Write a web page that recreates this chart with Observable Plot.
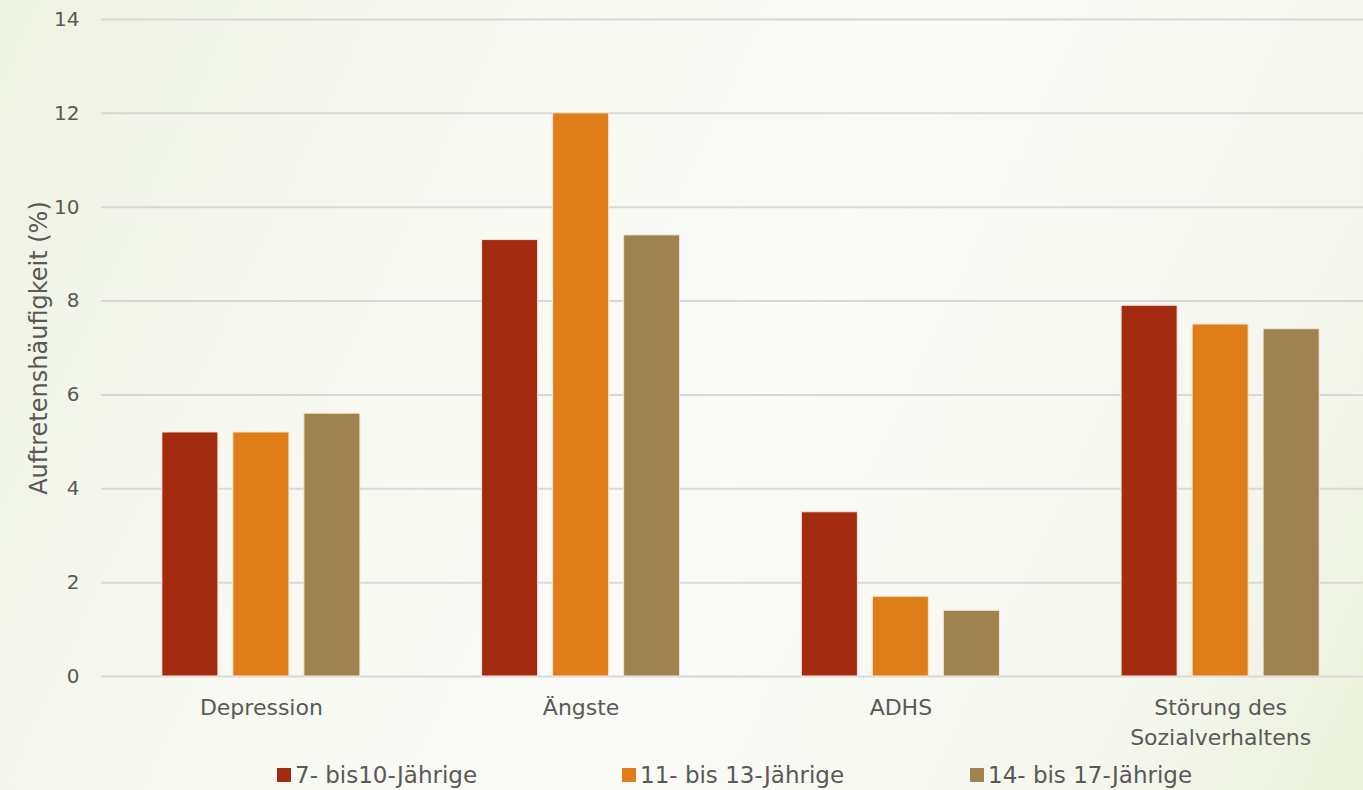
<!DOCTYPE html>
<html><head><meta charset="utf-8">
<script src="https://cdn.jsdelivr.net/npm/d3@7"></script>
<script src="https://cdn.jsdelivr.net/npm/@observablehq/plot@0.6"></script>
<style>
html,body{margin:0;padding:0;}
body{width:1363px;height:790px;overflow:hidden;position:relative;
background:linear-gradient(115deg,#eef2e2 0%,#f6f8f0 25%,#fafbf7 55%,#f5f7ee 85%,#eaf0da 100%);
font-family:"DejaVu Sans",sans-serif;color:#595959;}
#chart{position:absolute;left:0;top:0;width:1380px;}
#chart svg{max-width:none !important;}
#chart svg g[aria-label="y-axis tick label"] text{font-size:20px;}
#chart svg g[aria-label="fx-axis tick label"] text{font-size:22px;}
#chart svg g[aria-label="y-axis label"] text{font-size:24px;}
#legend{position:absolute;left:0;top:762px;width:1363px;height:28px;font-size:23px;color:#595959;}
.item{position:absolute;top:0;display:flex;align-items:center;white-space:nowrap;}
.sw{width:14px;height:14px;margin-right:4px;}
</style></head>
<body>
<div id="chart"></div>
<div id="legend"></div>
<script>
const categories = ["Depression", "Ängste", "ADHS", "Störung des\nSozialverhaltens"];
const series = ["7- bis10-Jährige", "11- bis 13-Jährige", "14- bis 17-Jährige"];
const colors = ["#a32b0f", "#df7e19", "#9e8250"];
const values = [
  [5.2, 9.3, 3.5, 7.9],
  [5.2, 12.0, 1.7, 7.5],
  [5.6, 9.4, 1.4, 7.4]
];
const yTicks = [0, 2, 4, 6, 8, 10, 12, 14];
const yLabel = "Auftretenshäufigkeit (%)";

const data = [];
series.forEach((s, i) => categories.forEach((c, j) => data.push({category: c, series: s, value: values[i][j]})));

const plot = Plot.plot({
  width: 1380,
  height: 760,
  marginLeft: 101,
  marginRight: 0,
  marginTop: 19,
  marginBottom: 84,
  style: {background: "transparent", fontFamily: "DejaVu Sans, sans-serif", fontSize: "20px", color: "#595959", overflow: "visible", maxWidth: "none"},
  fx: {domain: categories, padding: 0, round: false},
  x: {domain: series, paddingInner: 0.211, paddingOuter: 0.857, axis: null, round: false},
  y: {domain: [0, 14], ticks: yTicks},
  color: {domain: series, range: colors},
  marks: [
    Plot.gridY(yTicks, {stroke: "#d9d9d9", strokeOpacity: 1, strokeWidth: 2}),
    Plot.barY(data, {fx: "category", x: "series", y: "value", fill: "series", stroke: "#f4e6d8", strokeWidth: 1}),
    Plot.axisY(yTicks, {tickSize: 0, tickPadding: 22, fontSize: 20, fill: "#595959",
      label: yLabel, labelAnchor: "center", labelArrow: "none", labelOffset: 72}),
    Plot.axisFx({anchor: "bottom", tickSize: 0, tickPadding: 17, fontSize: 22, fill: "#595959", lineHeight: 1.36, label: null})
  ]
});
document.getElementById("chart").appendChild(plot);

const legendX = [277, 622, 970];
const legend = document.getElementById("legend");
series.forEach((s, i) => {
  const d = document.createElement("div");
  d.className = "item";
  d.style.left = legendX[i] + "px";
  d.innerHTML = `<span class="sw" style="background:${colors[i]}"></span><span>${s}</span>`;
  legend.appendChild(d);
});
</script>
</body></html>
